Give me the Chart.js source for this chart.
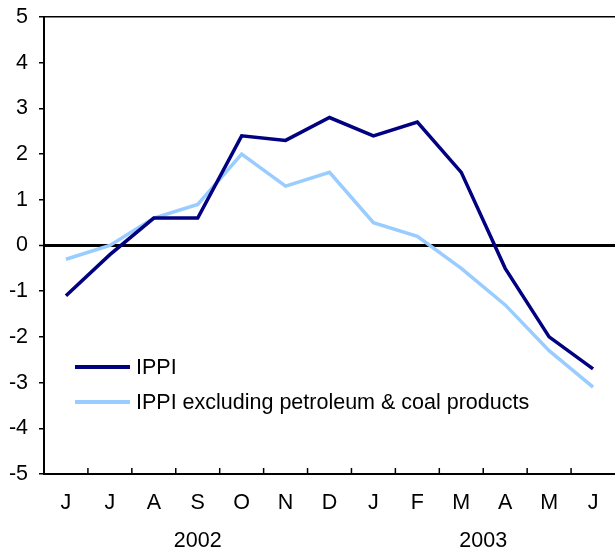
<!DOCTYPE html>
<html>
<head>
<meta charset="utf-8">
<script src="https://cdn.jsdelivr.net/npm/chart.js@4"></script>
<style>
  html, body { margin: 0; padding: 0; background: #fff; }
  #wrap { width: 615px; height: 552px; }
</style>
</head>
<body>
<div id="wrap"><canvas id="myChart" width="615" height="552"></canvas></div>
<script>
var months = ["J", "J", "A", "S", "O", "N", "D", "J", "F", "M", "A", "M", "J"];
var ippi = [-1.1, -0.2, 0.6, 0.6, 2.4, 2.3, 2.8, 2.4, 2.7, 1.6, -0.5, -2.0, -2.7];
var ippiExPetroCoal = [-0.3, 0.0, 0.6, 0.9, 2.0, 1.3, 1.6, 0.5, 0.2, -0.5, -1.3, -2.3, -3.1];
var years = ["2002", "2003"];
var yearFirst = [0, 7];
var yearLast = [6, 12];

var FONT = "'Liberation Sans', Arial, sans-serif";
var FSIZE = 21.5;

// legend inside the plot, bottom left
var insideLegend = {
  id: "insideLegend",
  afterDatasetsDraw: function (chart) {
    var c = chart.ctx, a = chart.chartArea;
    chart.data.datasets.forEach(function (ds, i) {
      var y = a.bottom - 107 + i * 35;
      c.save();
      c.strokeStyle = ds.borderColor;
      c.lineWidth = 4;
      c.beginPath();
      c.moveTo(a.left + 31, y);
      c.lineTo(a.left + 86, y);
      c.stroke();
      c.fillStyle = "#000";
      c.font = FSIZE + "px " + FONT;
      c.textBaseline = "middle";
      c.fillText(ds.label, a.left + 92, y + 1);
      c.restore();
    });
  }
};

// tick marks between months + year labels
var monthAxis = {
  id: "monthAxis",
  afterDraw: function (chart) {
    var c = chart.ctx, a = chart.chartArea, x = chart.scales.x;
    c.save();
    c.strokeStyle = "#000";
    c.lineWidth = 1.5;
    for (var i = 1; i < months.length; i++) {
      var px = (x.getPixelForValue(i - 1) + x.getPixelForValue(i)) / 2;
      c.beginPath();
      c.moveTo(px, a.bottom);
      c.lineTo(px, a.bottom - 6);
      c.stroke();
    }
    c.fillStyle = "#000";
    c.font = FSIZE + "px " + FONT;
    c.textAlign = "center";
    c.textBaseline = "middle";
    years.forEach(function (yr, k) {
      var px = (x.getPixelForValue(yearFirst[k]) + x.getPixelForValue(yearLast[k])) / 2;
      c.fillText(yr, px, a.bottom + 67);
    });
    c.restore();
  }
};

var ctx = document.getElementById("myChart");
var myChart = new Chart(ctx, {
  type: "line",
  data: {
    labels: months,
    datasets: [
      {
        data: ippi,
        label: "IPPI",
        borderColor: "#000080",
        borderWidth: 3.5,
        pointRadius: 0,
        lineTension: 0,
        fill: false
      },
      {
        data: ippiExPetroCoal,
        label: "IPPI excluding petroleum & coal products",
        borderColor: "#99CCFF",
        borderWidth: 3.5,
        pointRadius: 0,
        lineTension: 0,
        fill: false
      }
    ]
  },
  options: {
    responsive: false,
    animation: false,
    devicePixelRatio: 1,
    layout: { padding: 0 },
    plugins: {
      legend: { display: false },
      tooltip: { enabled: false }
    },
    scales: {
      x: {
        offset: true,
        grid: { display: false, drawTicks: false },
        border: { display: true, color: "#000", width: 2 },
        ticks: { color: "#000", font: { family: FONT, size: FSIZE }, padding: 16, maxRotation: 0, autoSkip: false },
        afterFit: function (s) { s.height = 78; }
      },
      y: {
        min: -5,
        max: 5,
        ticks: { stepSize: 1, color: "#000", font: { family: FONT, size: FSIZE }, padding: 11 },
        grid: {
          drawTicks: true,
          tickLength: 5,
          tickColor: "#000",
          tickWidth: 1.5,
          color: function (c) {
            if (c.tick && (c.tick.value === 0 || c.tick.value === 5)) return "#000";
            return "rgba(0,0,0,0)";
          },
          lineWidth: function (c) {
            if (c.tick && c.tick.value === 0) return 3;
            return 1.5;
          }
        },
        border: { display: true, color: "#000", width: 2 },
        afterFit: function (s) {
          s.width = 44;
          s.paddingTop = 17;
          s.paddingBottom = 0;
        }
      }
    }
  },
  plugins: [insideLegend, monthAxis]
});
</script>
</body>
</html>
